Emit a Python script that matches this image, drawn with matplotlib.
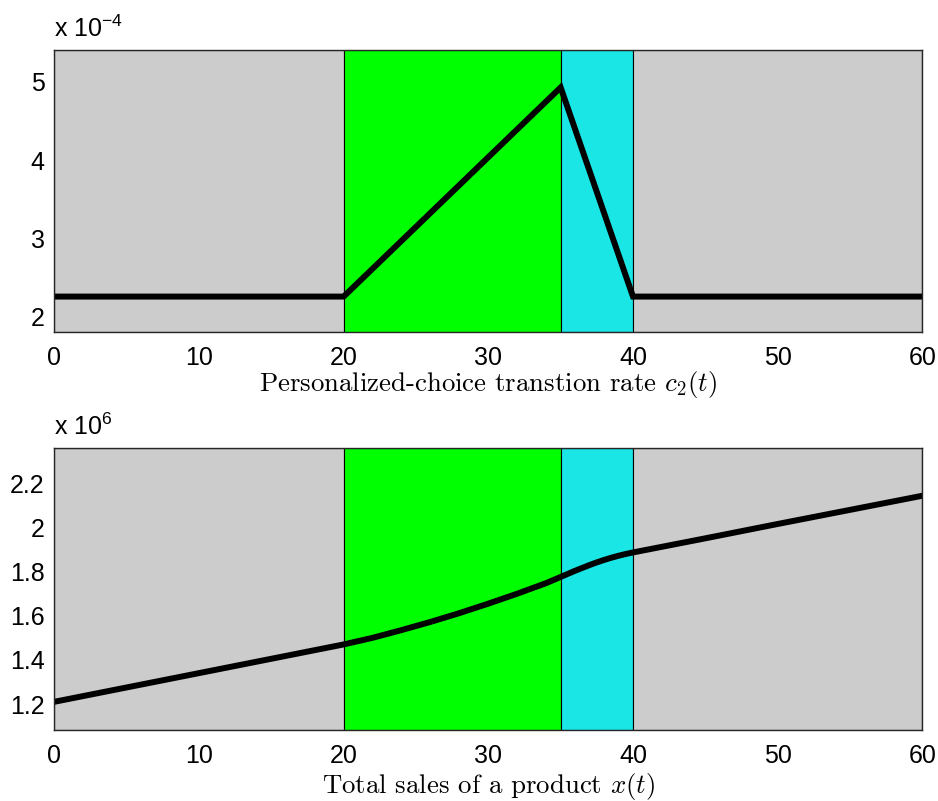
import matplotlib
matplotlib.use("Agg")
import matplotlib.pyplot as plt

# ---- data ----
t_c2 = [0, 20, 35, 40, 60]
c2_vals = [2.25, 2.25, 4.93, 2.25, 2.25]          # x 1e-4

t_x = [0, 5, 10, 15, 20, 22, 24, 26, 28, 30, 32, 34, 35, 35.5, 36, 36.5, 37, 37.5,
       38, 38.5, 39, 39.5, 40, 45, 50, 55, 60]
x_vals = [1.21, 1.275, 1.34, 1.405, 1.47, 1.50, 1.535, 1.572, 1.612, 1.655, 1.70, 1.748,
          1.776, 1.790, 1.804, 1.817, 1.830, 1.842, 1.853, 1.863, 1.872, 1.880, 1.887,
          1.951, 2.016, 2.080, 2.144]   # x 1e6

regions = [(0, 20), (20, 35), (35, 40), (40, 60)]
region_colors = ["#cccccc", "#00ff00", "#1ae6e6", "#cccccc"]

xticks = [0, 10, 20, 30, 40, 50, 60]
c2_yticks = [2, 3, 4, 5]
x_yticks = [1.2, 1.4, 1.6, 1.8, 2.0, 2.2]
x_yticklabels = ["1.2", "1.4", "1.6", "1.8", "2", "2.2"]

plt.rcParams["font.family"] = ["Liberation Sans", "DejaVu Sans"]
plt.rcParams["mathtext.fontset"] = "custom"
plt.rcParams["mathtext.rm"] = "Liberation Sans"
plt.rcParams["mathtext.it"] = "Liberation Sans:italic"

fig = plt.figure(figsize=(9.38, 8.01), dpi=100)
ax1 = fig.add_axes([0.0579, 0.5859, 0.9254, 0.3517])
ax2 = fig.add_axes([0.0579, 0.0886, 0.9254, 0.3517])

def style(ax, ylim, yticks, ylabels, scale_txt, xlabel, label_y):
    for (a, b), c in zip(regions, region_colors):
        ax.axvspan(a, b, facecolor=c, edgecolor="black", linewidth=0.8, zorder=0)
    ax.set_xlim(0, 60)
    ax.set_ylim(*ylim)
    ax.set_xticks(xticks)
    ax.set_xticklabels([str(v) for v in xticks])
    ax.set_yticks(yticks)
    ax.set_yticklabels(ylabels)
    ax.tick_params(length=0, labelsize=18)
    ax.tick_params(axis="x", pad=10)
    ax.tick_params(axis="y", pad=7)
    for s in ax.spines.values():
        s.set_color("#262626")
        s.set_linewidth(1.0)
        s.set_zorder(5)
    ax.text(0, 1.046, scale_txt, transform=ax.transAxes, fontsize=18,
            ha="left", va="baseline")
    ax.text(0.5, label_y, xlabel, transform=ax.transAxes, fontsize=19.3,
            family="cmr10", math_fontfamily="cm", ha="center", va="baseline")

style(ax1, (1.80, 5.41), c2_yticks, [str(v) for v in c2_yticks], r"x 10$^{-4}$",
      r"Personalized-choice transtion rate $c_2(t)$", -0.2105)
ax1.plot(t_c2, c2_vals, color="black", linewidth=4.3, solid_joinstyle="miter", zorder=3)

style(ax2, (1.082, 2.359), x_yticks, x_yticklabels, r"x 10$^{6}$",
      r"Total sales of a product $x(t)$", -0.2247)
ax2.plot(t_x, x_vals, color="black", linewidth=4.3, zorder=3)

fig.savefig("out.png", dpi=100)
